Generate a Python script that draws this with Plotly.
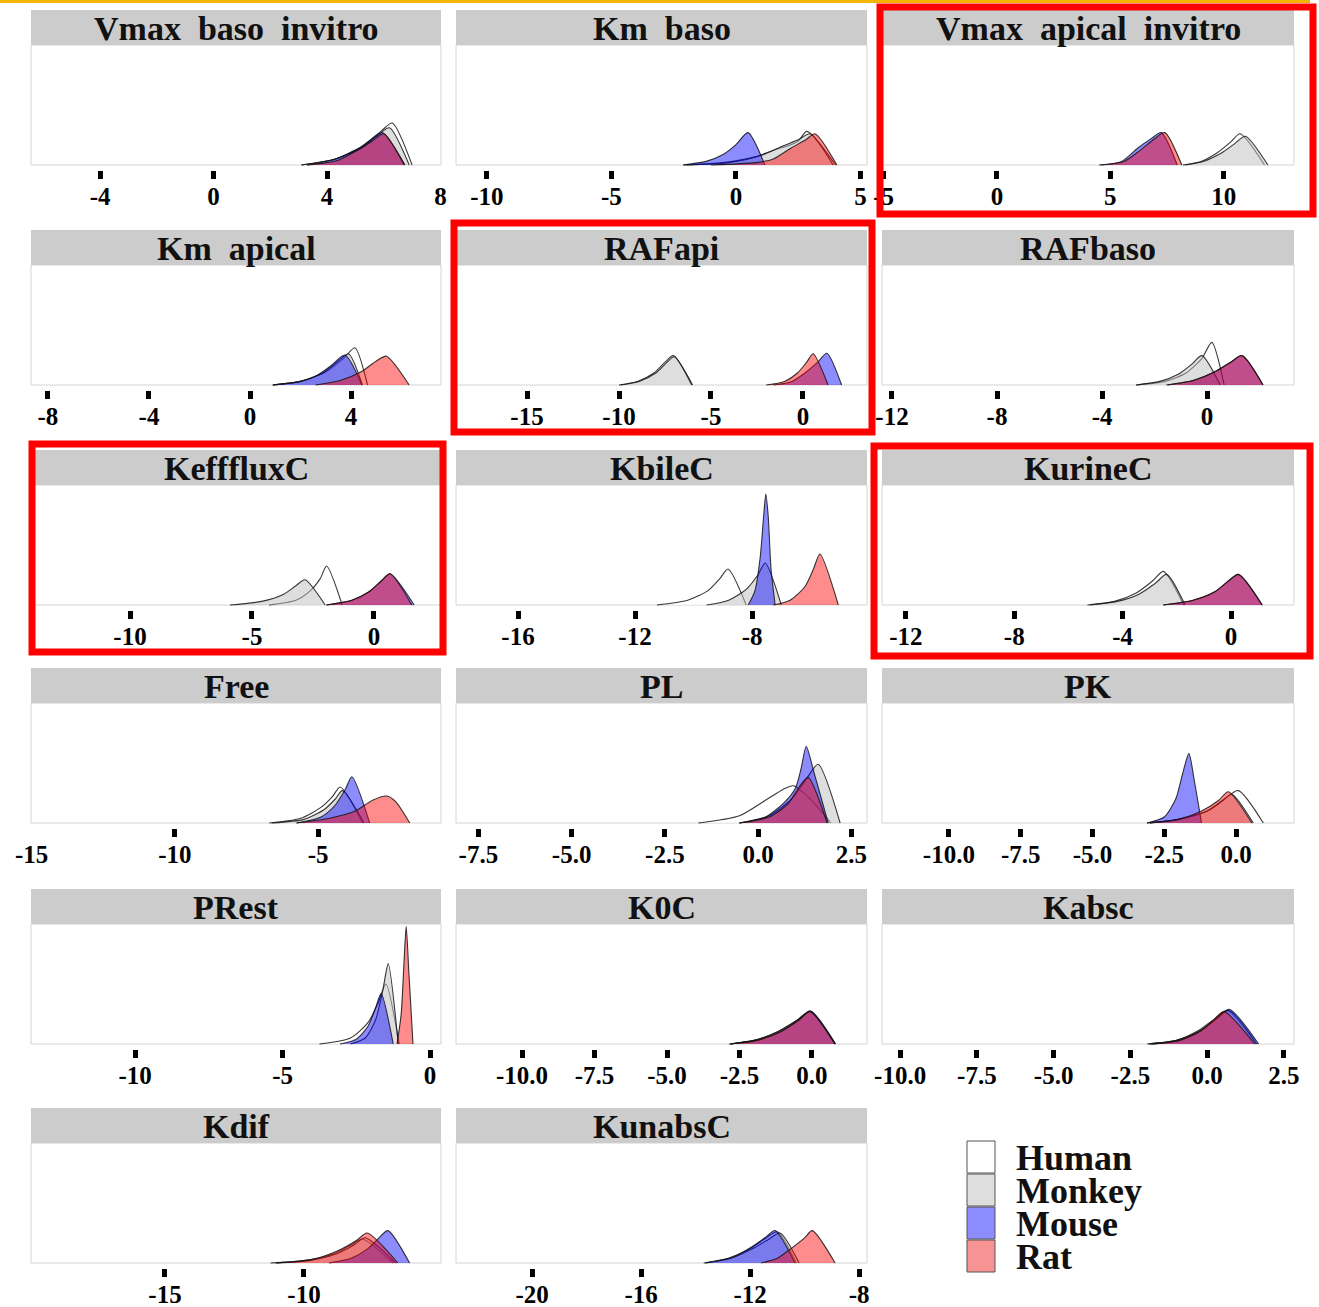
import plotly.graph_objects as go

# ---------------------------------------------------------------- data
parameters = [
    "Vmax  baso  invitro", "Km  baso", "Vmax  apical  invitro",
    "Km  apical", "RAFapi", "RAFbaso",
    "KefffluxC", "KbileC", "KurineC",
    "Free", "PL", "PK",
    "PRest", "K0C", "Kabsc",
    "Kdif", "KunabsC",
]
species = ["Human", "Monkey", "Mouse", "Rat"]

# posterior density outlines (x = log-scale parameter value, y = relative density)
human_x = [
    [3.1, 4.3, 5.2, 5.9, 6.3, 7.0],
    [-2.1, -0.5, 0.8, 1.6, 2.1, 2.5, 2.85, 4.0],
    [8.2, 9.0, 9.7, 10.3, 10.72, 11.8],
    [0.9, 2.0, 3.0, 3.7, 4.15, 4.65],
    [-10.0, -9.0, -8.1, -7.5, -7.05, -6.0],
    [-2.7, -1.6, -0.8, -0.2, 0.18, 0.65],
    [-4.3, -3.2, -2.6, -2.2, -1.94, -1.3],
    [-11.25, -10.2, -9.5, -9.1, -8.82, -8.2],
    [-5.3, -4.3, -3.5, -2.9, -2.5, -1.75],
    [-6.7, -5.6, -4.9, -4.5, -4.23, -3.45],
    [-1.6, -0.5, 0.25, 0.67, 0.95, 1.4, 1.95],
    [-3.0, -2.0, -1.0, -0.4, 0.08, 0.95],
    [-3.75, -2.7, -2.1, -1.75, -1.5, -1.05],
    [-2.85, -2.0, -1.2, -0.5, -0.07, 0.8],
    [-1.9, -1.0, -0.3, 0.3, 0.65, 1.6],
    [-11.2, -10.0, -9.0, -8.3, -7.9, -6.8],
    [-13.7, -12.8, -12.0, -11.4, -11.0, -10.3],
]
human_y = [
    [0, .05, .15, .28, .35, 0],
    [0, .02, .07, .13, .16, .2, .28, 0],
    [0, .03, .1, .19, .26, 0],
    [0, .03, .11, .22, .31, 0],
    [0, .03, .1, .19, .245, 0],
    [0, .03, .1, .22, .355, 0],
    [0, .04, .12, .22, .325, 0],
    [0, .04, .12, .22, .3, 0],
    [0, .03, .1, .2, .28, 0],
    [0, .04, .13, .22, .3, 0],
    [0, .06, .2, .28, .31, .2, 0],
    [0, .03, .1, .2, .27, 0],
    [0, .05, .18, .35, .5, 0],
    [0, .03, .1, .2, .275, 0],
    [0, .03, .11, .22, .28, 0],
    [0, .02, .07, .15, .2, 0],
    [0, .04, .12, .21, .26, 0],
]

monkey_x = [
    [3.1, 4.3, 5.2, 5.8, 6.2, 6.9],
    [-2.0, -0.3, 1.0, 1.9, 2.5, 2.97, 3.9],
    [8.3, 9.1, 9.9, 10.5, 10.95, 11.95],
    [0.9, 2.0, 2.9, 3.5, 3.9, 4.45],
    [-9.9, -8.9, -8.0, -7.45, -7.0, -6.05],
    [-2.7, -1.8, -1.1, -0.6, -0.2, 0.5],
    [-5.9, -4.6, -3.7, -3.2, -2.83, -2.0],
    [-9.55, -8.8, -8.2, -7.8, -7.55, -7.0],
    [-5.2, -4.2, -3.4, -2.8, -2.38, -1.7],
    [-6.6, -5.5, -4.8, -4.4, -4.15, -3.4],
    [-0.5, 0.3, 0.9, 1.3, 1.61, 2.2],
    [-3.0, -2.0, -1.0, -0.5, -0.15, 0.6],
    [-2.7, -2.2, -1.85, -1.6, -1.42, -1.08],
    [-2.8, -2.0, -1.2, -0.5, -0.05, 0.8],
    [-1.95, -1.0, -0.3, 0.3, 0.7, 1.62],
    [-11.0, -9.8, -8.9, -8.2, -7.8, -6.7],
    [-13.6, -12.7, -11.9, -11.3, -10.9, -10.2],
]
monkey_y = [
    [0, .05, .14, .25, .31, 0],
    [0, .02, .08, .16, .21, .26, 0],
    [0, .03, .1, .18, .24, 0],
    [0, .03, .1, .2, .26, 0],
    [0, .03, .1, .18, .235, 0],
    [0, .03, .09, .17, .245, 0],
    [0, .03, .09, .16, .21, 0],
    [0, .04, .13, .25, .35, 0],
    [0, .03, .09, .18, .255, 0],
    [0, .03, .11, .2, .27, 0],
    [0, .06, .2, .37, .49, 0],
    [0, .03, .1, .18, .24, 0],
    [0, .05, .2, .45, .67, 0],
    [0, .03, .1, .2, .27, 0],
    [0, .03, .1, .21, .28, 0],
    [0, .02, .07, .15, .21, 0],
    [0, .04, .12, .2, .25, 0],
]

mouse_x = [
    [3.3, 4.3, 5.2, 5.6, 5.95, 6.75],
    [-2.13, -1.2, -0.5, 0.0, 0.48, 1.16],
    [4.5, 5.5, 6.2, 6.8, 7.25, 7.95],
    [0.92, 2.0, 2.65, 3.2, 3.76, 4.43],
    [-1.6, -0.6, 0.1, 0.8, 1.3, 2.1],
    [-1.55, -0.5, 0.3, 0.9, 1.33, 2.13],
    [-1.95, -0.9, -0.2, 0.3, 0.66, 1.65],
    [-8.13, -7.9, -7.72, -7.6, -7.53, -7.45, -7.35, -7.21],
    [-2.5, -1.4, -0.6, -0.1, 0.27, 1.15],
    [-5.75, -4.9, -4.4, -4.05, -3.82, -3.2],
    [-0.5, 0.2, 0.7, 1.0, 1.15, 1.29, 1.5, 1.88],
    [-3.1, -2.5, -2.1, -1.85, -1.64, -1.45, -1.2],
    [-3.05, -2.5, -2.1, -1.85, -1.66, -1.25],
    [-2.8, -1.9, -1.1, -0.45, -0.05, 0.82],
    [-1.85, -0.9, -0.2, 0.35, 0.72, 1.68],
    [-9.1, -8.3, -7.7, -7.3, -6.98, -6.2],
    [-13.65, -12.6, -11.9, -11.4, -11.08, -10.35],
]
mouse_y = [
    [0, .05, .15, .22, .27, 0],
    [0, .03, .09, .17, .27, 0],
    [0, .03, .14, .22, .27, 0],
    [0, .03, .08, .16, .25, 0],
    [0, .03, .1, .19, .265, 0],
    [0, .04, .11, .19, .245, 0],
    [0, .04, .11, .2, .26, 0],
    [0, .12, .4, .75, .925, .75, .3, 0],
    [0, .04, .11, .2, .255, 0],
    [0, .05, .15, .28, .385, 0],
    [0, .05, .17, .29, .45, .64, .42, 0],
    [0, .05, .2, .42, .58, .35, 0],
    [0, .04, .15, .3, .42, 0],
    [0, .03, .1, .2, .275, 0],
    [0, .03, .11, .22, .29, 0],
    [0, .04, .12, .21, .27, 0],
    [0, .05, .14, .22, .27, 0],
]

rat_x = [
    [3.3, 4.4, 5.2, 5.6, 6.0, 6.72],
    [-1.0, 0.8, 1.5, 2.2, 2.8, 3.17, 4.05],
    [4.6, 5.6, 6.3, 6.9, 7.4, 8.15],
    [2.6, 3.6, 4.4, 5.0, 5.4, 6.3],
    [-2.0, -1.0, -0.3, 0.2, 0.55, 1.36],
    [-1.5, -0.5, 0.3, 0.9, 1.33, 2.13],
    [-1.94, -0.9, -0.2, 0.3, 0.66, 1.55],
    [-7.27, -6.7, -6.2, -5.9, -5.68, -5.05],
    [-2.5, -1.4, -0.6, -0.1, 0.27, 1.14],
    [-5.75, -4.6, -3.7, -3.1, -2.6, -2.3, -1.8],
    [-0.5, 0.3, 0.8, 1.1, 1.34, 1.85],
    [-3.1, -2.0, -1.2, -0.6, -0.27, 0.55],
    [-1.12, -0.98, -0.88, -0.81, -0.72, -0.58],
    [-2.83, -1.9, -1.1, -0.45, -0.07, 0.79],
    [-1.8, -0.9, -0.2, 0.25, 0.55, 1.55],
    [-11.0, -9.7, -8.8, -8.1, -7.73, -6.62],
    [-11.6, -11.0, -10.5, -10.0, -9.72, -8.88],
]
rat_y = [
    [0, .04, .14, .2, .26, 0],
    [0, .02, .05, .14, .21, .26, 0],
    [0, .03, .12, .21, .27, 0],
    [0, .04, .11, .2, .24, 0],
    [0, .03, .1, .19, .26, 0],
    [0, .04, .11, .19, .245, 0],
    [0, .04, .11, .2, .26, 0],
    [0, .04, .15, .3, .425, 0],
    [0, .04, .11, .2, .255, 0],
    [0, .04, .1, .19, .225, .18, 0],
    [0, .05, .16, .3, .38, 0],
    [0, .03, .1, .19, .26, 0],
    [0, .25, .7, .98, .6, 0],
    [0, .03, .1, .2, .27, 0],
    [0, .03, .11, .21, .27, 0],
    [0, .03, .1, .19, .25, 0],
    [0, .04, .12, .21, .27, 0],
]

tick_values = [
    [-4, 0, 4, 8], [-10, -5, 0, 5], [-5, 0, 5, 10],
    [-8, -4, 0, 4], [-15, -10, -5, 0], [-12, -8, -4, 0],
    [-10, -5, 0], [-16, -12, -8], [-12, -8, -4, 0],
    [-15, -10, -5], [-7.5, -5, -2.5, 0, 2.5], [-10, -7.5, -5, -2.5, 0],
    [-10, -5, 0], [-10, -7.5, -5, -2.5, 0], [-10, -7.5, -5, -2.5, 0, 2.5],
    [-15, -10], [-20, -16, -12, -8],
]
tick_labels = [
    ["-4", "0", "4", "8"], ["-10", "-5", "0", "5"], ["-5", "0", "5", "10"],
    ["-8", "-4", "0", "4"], ["-15", "-10", "-5", "0"], ["-12", "-8", "-4", "0"],
    ["-10", "-5", "0"], ["-16", "-12", "-8"], ["-12", "-8", "-4", "0"],
    ["-15", "-10", "-5"], ["-7.5", "-5.0", "-2.5", "0.0", "2.5"],
    ["-10.0", "-7.5", "-5.0", "-2.5", "0.0"],
    ["-10", "-5", "0"], ["-10.0", "-7.5", "-5.0", "-2.5", "0.0"],
    ["-10.0", "-7.5", "-5.0", "-2.5", "0.0", "2.5"],
    ["-15", "-10"], ["-20", "-16", "-12", "-8"],
]

# ---------------------------------------------------------------- layout
W, H = 1319, 1307
FONT = "Liberation Serif"

x_ranges = [
    [-6.44, 8.02], [-11.24, 5.26], [-5.07, 13.1],
    [-8.67, 7.56], [-18.86, 3.48], [-12.38, 3.31],
    [-14.06, 2.75], [-18.12, -4.07], [-12.88, 2.32],
    [-15.02, -0.71], [-8.1, 2.92], [-12.33, 2.02],
    [-13.53, 0.37], [-12.28, 1.9], [-10.59, 2.83],
    [-19.82, -5.07], [-22.79, -7.71],
]
col_x = [(31, 441), (456, 867), (882, 1294)]
strip_top = [10, 230, 450, 668, 889, 1108]
STRIP_H, PANEL_H, TICK_GAP = 35, 120, 14

fills = {
    "Human": "rgba(255,255,255,0.5)",
    "Monkey": "rgba(190,190,190,0.5)",
    "Mouse": "rgba(0,0,255,0.45)",
    "Rat": "rgba(255,0,0,0.45)",
}
legend_keys = {
    "Human": "#ffffff",
    "Monkey": "#dedede",
    "Mouse": "#8c8cff",
    "Rat": "#f79393",
}
series = {
    "Human": (human_x, human_y),
    "Monkey": (monkey_x, monkey_y),
    "Mouse": (mouse_x, mouse_y),
    "Rat": (rat_x, rat_y),
}

fig = go.Figure()
shapes, annotations = [], []


def px(x):
    return x / W


def py(y):
    return 1 - y / H


for i, name in enumerate(parameters):
    r, c = divmod(i, 3)
    x0, x1 = col_x[c]
    top = strip_top[r] + STRIP_H
    bottom = top + PANEL_H
    sfx = "" if i == 0 else str(i + 1)

    # panel background and strip
    shapes.append(dict(type="rect", xref="paper", yref="paper", layer="below",
                       x0=px(x0), x1=px(x1), y0=py(bottom), y1=py(top),
                       fillcolor="white", line=dict(color="#d4d4d4", width=1)))
    shapes.append(dict(type="rect", xref="paper", yref="paper", layer="below",
                       x0=px(x0), x1=px(x1), y0=py(top), y1=py(strip_top[r]),
                       fillcolor="#cccccc", line=dict(width=0)))
    annotations.append(dict(xref="paper", yref="paper", x=px((x0 + x1) / 2),
                            y=py(strip_top[r] + STRIP_H / 2 + 1),
                            text="<b>" + name.replace("  ", "\u00a0\u00a0") + "</b>",
                            showarrow=False, xanchor="center", yanchor="middle",
                            font=dict(family=FONT, size=34, color="#111111")))

    for sp in species:
        xs, ys = series[sp]
        fig.add_trace(go.Scatter(
            x=xs[i], y=ys[i], mode="lines", fill="tozeroy",
            fillcolor=fills[sp],
            line=dict(color="rgba(20,20,20,0.85)", width=1.1, shape="spline", smoothing=0.7),
            xaxis="x" + sfx, yaxis="y" + sfx, showlegend=False, hoverinfo="skip",
            name=sp,
        ))

    fig.layout["xaxis" + sfx] = dict(
        domain=[px(x0), px(x1)], range=x_ranges[i], anchor="y" + sfx,
        tickmode="array", tickvals=tick_values[i],
        ticktext=["<b>" + t + "</b>" for t in tick_labels[i]],
        ticks="inside", ticklen=8, tickwidth=5, tickcolor="black",
        ticklabelstandoff=0, automargin=False,
        showgrid=False, zeroline=False, showline=False, fixedrange=True,
        tickfont=dict(family=FONT, size=25, color="black"),
    )
    fig.layout["yaxis" + sfx] = dict(
        domain=[py(bottom + TICK_GAP), py(top)],
        range=[-TICK_GAP / PANEL_H, 1.0], anchor="x" + sfx,
        visible=False, fixedrange=True, automargin=False,
    )

# legend
for k, sp in enumerate(species):
    y0 = 1141 + k * 33
    shapes.append(dict(type="rect", xref="paper", yref="paper",
                       x0=px(967), x1=px(995), y0=py(y0 + 32), y1=py(y0),
                       fillcolor=legend_keys[sp], line=dict(color="#555555", width=1)))
    annotations.append(dict(xref="paper", yref="paper", x=px(1014), y=py(y0 + 17),
                            text="<b>" + sp + "</b>", showarrow=False,
                            xanchor="left", yanchor="middle",
                            font=dict(family=FONT, size=36, color="#111111")))

# highlight frames and top rule
for (a, b, c2, d) in [(880, 7, 1313, 214), (454, 223, 872, 432),
                      (32, 444, 443, 652), (874, 446, 1310, 656)]:
    shapes.append(dict(type="rect", xref="paper", yref="paper", layer="above",
                       x0=px(a), x1=px(c2), y0=py(d), y1=py(b),
                       line=dict(color="#ff0000", width=7)))
shapes.append(dict(type="rect", xref="paper", yref="paper", layer="above",
                   x0=0, x1=px(1310), y0=py(3), y1=1,
                   fillcolor="#f5b400", line=dict(width=0)))

fig.update_layout(
    width=W, height=H,
    margin=dict(l=0, r=0, t=0, b=0, pad=0, autoexpand=False),
    paper_bgcolor="white", plot_bgcolor="rgba(0,0,0,0)",
    shapes=shapes, annotations=annotations, showlegend=False,
)

fig.write_html(
    "out.html",
    config={"responsive": False, "displayModeBar": False},
    post_script=(
        "document.body.style.margin='0';"
        "document.body.style.overflow='hidden';"
        "document.documentElement.style.overflow='hidden';"
    ),
)
